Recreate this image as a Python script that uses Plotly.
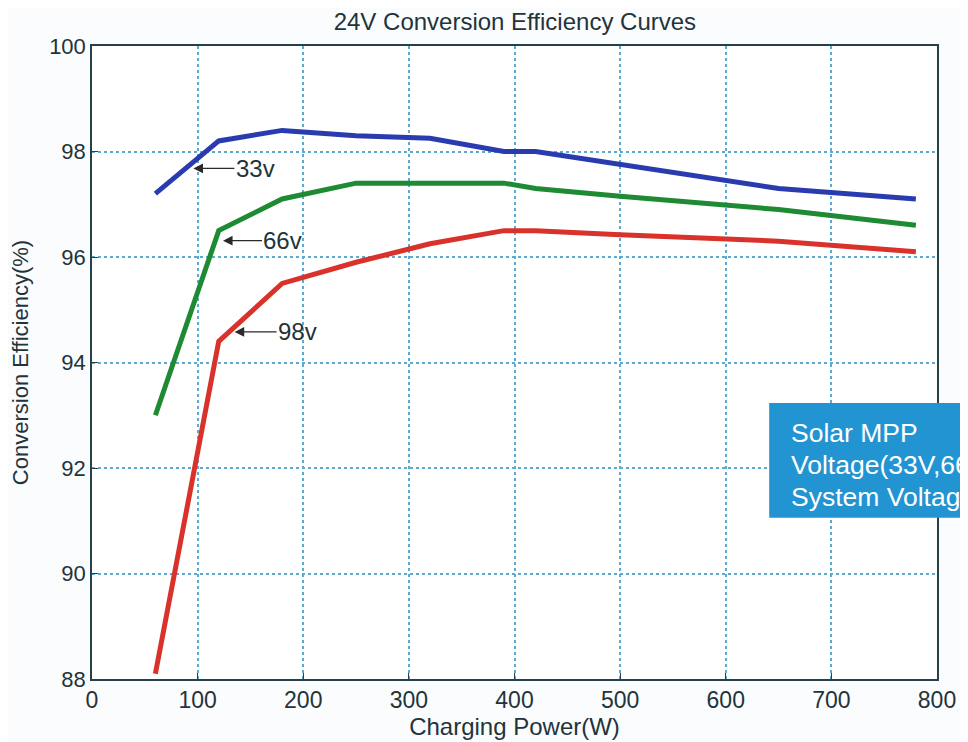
import plotly.graph_objects as go

power = [60, 120, 180, 250, 320, 390, 420, 500, 650, 780]
eff_33v = [97.2, 98.2, 98.4, 98.3, 98.25, 98.0, 98.0, 97.75, 97.3, 97.1]
eff_66v = [93.0, 96.5, 97.1, 97.4, 97.4, 97.4, 97.3, 97.15, 96.9, 96.6]
eff_98v = [88.1, 94.4, 95.5, 95.9, 96.25, 96.5, 96.5, 96.42, 96.3, 96.1]

x_ticks = [0, 100, 200, 300, 400, 500, 600, 700, 800]
y_ticks = [88, 90, 92, 94, 96, 98, 100]

labels = ["33v", "66v", "98v"]
label_x = [96, 124, 135]
label_y = [97.68, 96.31, 94.58]
label_offset = [62, 60, 63]

box_lines = ["Solar MPP", "Voltage(33V,66V,98V)", "System Voltage(24V)"]

text_color = "#22343a"
font = "Liberation Sans, Arial, sans-serif"

fig = go.Figure()
for ys, col in [(eff_33v, "#2a3bb0"), (eff_66v, "#1f8a34"), (eff_98v, "#d9322b")]:
    fig.add_trace(go.Scatter(x=power, y=ys, mode="lines",
                             line=dict(color=col, width=5), showlegend=False))

axis_common = dict(
    showline=True, linecolor="#27414a", linewidth=1.5, mirror=True,
    showgrid=True, gridcolor="#5ea9cf", gridwidth=1.5, griddash="dot",
    zeroline=False, ticks="inside", ticklen=6, tickcolor="#27414a",
)

fig.update_xaxes(range=[0, 800], tickvals=x_ticks, **axis_common,
                 tickfont=dict(size=23, color=text_color, family=font),
                 title=dict(text="Charging Power(W)", standoff=0,
                            font=dict(size=24, color=text_color, family=font)))
fig.update_yaxes(range=[88, 100], tickvals=y_ticks, **axis_common,
                 tickfont=dict(size=22, color=text_color, family=font),
                 title=dict(text="Conversion Efficiency(%)", standoff=14,
                            font=dict(size=22, color=text_color, family=font)))

for t, x, y, off in zip(labels, label_x, label_y, label_offset):
    fig.add_annotation(x=x, y=y, text=t, showarrow=True, ax=off, ay=0,
                       arrowhead=2, arrowsize=1.6, arrowwidth=1.2,
                       arrowcolor="#2a2a2a", font=dict(size=24, color=text_color, family=font))

fig.add_shape(type="rect", xref="paper", yref="paper", x0=0.8014, x1=1.1,
              y0=0.2547, y1=0.436, fillcolor="#2394d2", line=dict(width=0), layer="above")
for t, yy in zip(box_lines, [0.389, 0.3375, 0.2875]):
    fig.add_annotation(xref="paper", yref="paper", x=0.825, y=yy,
                       text=t, showarrow=False, xanchor="left", yanchor="middle",
                       font=dict(size=26.5, color="white", family=font))

fig.update_layout(
    width=960, height=734,
    margin=dict(l=83, r=26, t=38, b=56),
    paper_bgcolor="#fbfcfe", plot_bgcolor="#ffffff",
    title=dict(text="24V Conversion Efficiency Curves", x=0.528, xanchor="center",
               y=0.982, yanchor="middle",
               font=dict(size=24, color=text_color, family=font)),
)

fig.write_html("out.html")
